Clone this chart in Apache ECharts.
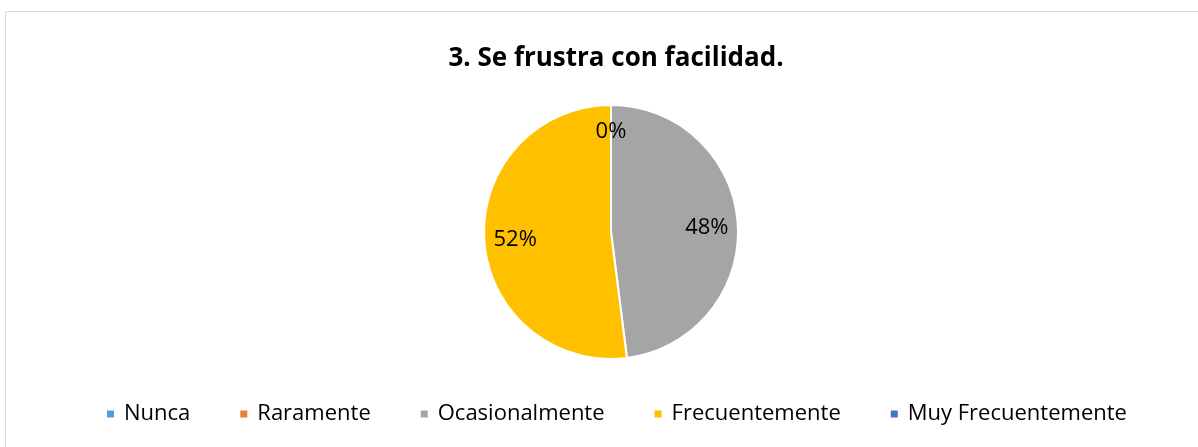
<!DOCTYPE html>
<html>
<head>
<meta charset="utf-8">
<script src="https://cdn.jsdelivr.net/npm/echarts@6/dist/echarts.min.js"></script>
<style>
  html, body { margin: 0; padding: 0; background: #fff; }
  #chart { width: 1198px; height: 447px; }
</style>
</head>
<body>
<div id="chart"></div>
<script>
// datos (porcentajes)
const categorias = ['Nunca', 'Raramente', 'Ocasionalmente', 'Frecuentemente', 'Muy Frecuentemente'];
const valores = [0, 0, 48, 52, 0];
const colores = ['#5B9BD5', '#ED7D31', '#A5A5A5', '#FFC000', '#4472C4'];

const chart = echarts.init(document.getElementById('chart'), null, { renderer: 'canvas' });

const datos = categorias.map((c, i) => ({
  name: c,
  value: valores[i],
  itemStyle: { color: colores[i] }
}));

// etiquetas: serie transparente encima para colocarlas a ~0.73 del radio
const datosEtiq = categorias.map((c, i) => ({
  name: c,
  value: valores[i],
  label: valores[i] === 0 ? { offset: [0, -6] } : {}
}));

const option = {
  backgroundColor: '#ffffff',
  animation: false,
  color: colores,
  title: {
    text: '3. Se frustra con facilidad.',
    left: 611,
    textAlign: 'center',
    top: 41,
    textStyle: {
      fontFamily: '"Open Sans", sans-serif',
      fontWeight: 'bold',
      fontSize: 26,
      color: '#000'
    }
  },
  legend: {
    data: categorias,
    bottom: 17,
    left: 100,
    itemWidth: 9,
    itemHeight: 9,
    itemGap: 48,
    icon: 'rect',
    textStyle: {
      fontFamily: '"Open Sans", sans-serif',
      fontSize: 22,
      color: '#000',
      padding: [0, 0, 0, 4]
    }
  },
  graphic: [{
    type: 'rect',
    silent: true,
    shape: { x: 5.5, y: 11.5, width: 1200, height: 450 },
    style: { fill: 'none', stroke: '#d9d9d9', lineWidth: 1 }
  }],
  series: [{
    name: 'pie',
    type: 'pie',
    center: [611, 232],
    radius: 127,
    startAngle: 90,
    clockwise: true,
    avoidLabelOverlap: false,
    label: { show: false },
    labelLine: { show: false },
    itemStyle: { borderColor: '#ffffff', borderWidth: 2 },
    emphasis: { disabled: true },
    data: datos
  }, {
    name: 'etiquetas',
    type: 'pie',
    center: [611, 234],
    radius: [0, 186],
    startAngle: 90,
    clockwise: true,
    silent: true,
    avoidLabelOverlap: false,
    itemStyle: { color: 'rgba(0,0,0,0)', borderWidth: 0 },
    label: {
      show: true,
      position: 'inside',
      fontFamily: '"Open Sans", sans-serif',
      fontSize: 22,
      color: '#000',
      formatter: p => Math.round(p.percent) + '%'
    },
    labelLine: { show: false },
    emphasis: { disabled: true },
    data: datosEtiq
  }]
};

chart.setOption(option);
</script>
</body>
</html>
